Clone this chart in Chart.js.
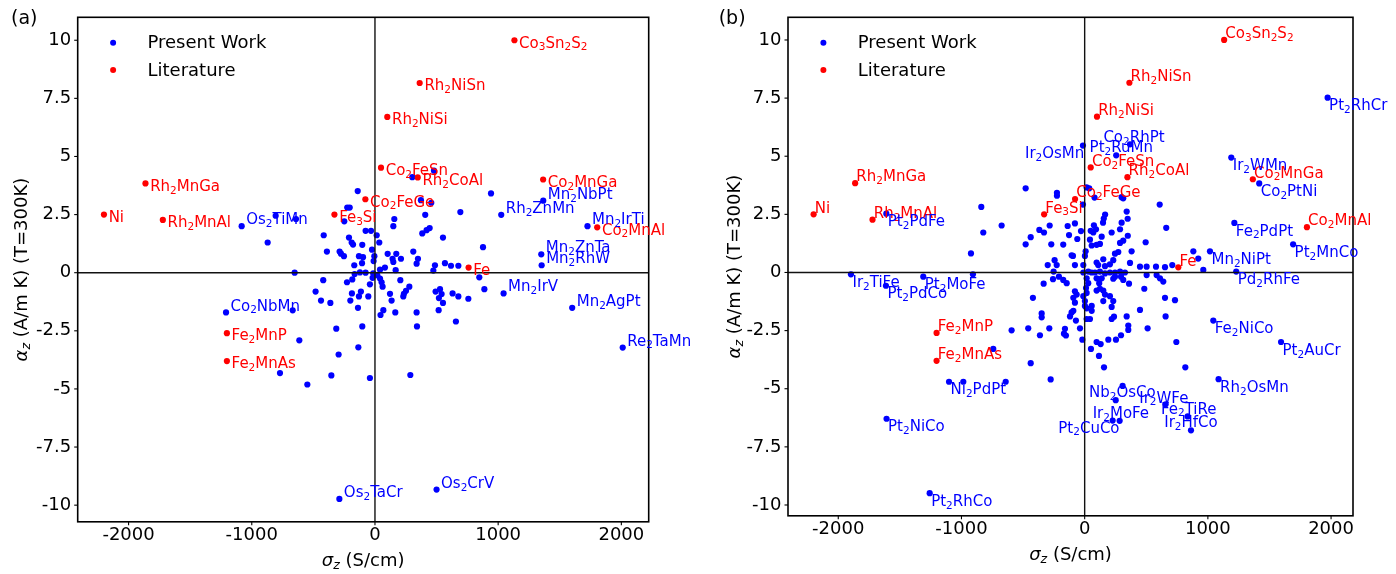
<!DOCTYPE html>
<html><head><meta charset="utf-8">
<script src="https://cdn.jsdelivr.net/npm/chart.js@4.4.1/dist/chart.umd.min.js"></script>
<style>
html,body{margin:0;padding:0;background:#fff;}
#wrap{position:relative;width:1396px;height:574px;overflow:hidden;background:#fff;}
canvas{position:absolute;top:0;}
</style></head><body>
<div id="wrap">
<canvas id="ca" width="700" height="574" style="left:0;width:700px;height:574px"></canvas>
<canvas id="cb" width="696" height="574" style="left:700px;width:696px;height:574px"></canvas>
</div>
<script>
// ---------------- data ----------------
const xTickValues = [-2000, -1000, 0, 1000, 2000];
const xTickLabels = ['-2000', '-1000', '0', '1000', '2000'];
const yTickValues = [-10, -7.5, -5, -2.5, 0, 2.5, 5, 7.5, 10];
const yTickLabels = ['-10', '-7.5', '-5', '-2.5', '0', '2.5', '5', '7.5', '10'];
const seriesNames = ['Present Work', 'Literature'];

// Literature (same in both panels)
const litNames = ['Ni','Rh2MnGa','Rh2MnAl','Fe2MnP','Fe2MnAs','Fe3Si','Co2FeGe','Co2FeSn','Rh2NiSi','Rh2CoAl','Rh2NiSn','Fe','Co3Sn2S2','Co2MnGa','Co2MnAl'];
const litSigma = [-2200,-1863,-1722,-1202,-1202,-329,-78,49,100,347,363,760,1132,1365,1804];
const litAlpha = [2.5,3.84,2.27,-2.6,-3.8,2.5,3.16,4.52,6.7,4.1,8.16,0.22,10.0,4.01,1.95];

// Panel (a) present work: labelled points first
const workA_names = ['Os2TiMn','Co2NbMn','Os2TaCr','Os2CrV','Mn2NbPt','Rh2ZnMn','Mn2IrTi','Mn2ZnTa','Mn2RhW','Mn2IrV','Mn2AgPt','Re2TaMn'];
const workA_sigma = [-1082,-1209,-289,500,1366,1025,1725,1350,1353,1044,1601,2011,
 -140,-225,-205,-806,-641,-249,-76,-32,-416,-871,-211,-189,-178,-103,-24,-390,-287,-276,-252,-130,-97,-105,-5,-11,-168,-652,-165,-122,-76,-19,-14,-420,-227,-184,-41,-482,-187,-114,-130,-54,-438,-362,-200,-668,-138,-314,-103,-614,-135,-295,-771,-354,-41,-549,
 303,479,942,373,457,157,149,408,693,14,35,384,419,444,552,103,143,173,211,149,311,349,338,877,487,474,568,617,677,847,888,41,81,19,41,54,62,168,206,279,252,235,230,122,135,68,45,165,338,341,492,528,541,519,552,517,630,677,758,657,287];
const workA_alpha = [2.00,-1.71,-9.73,-9.33,3.10,2.49,2.00,0.79,0.32,-0.89,-1.51,-3.22,
 3.51,2.80,2.80,2.45,2.31,2.21,1.80,1.80,1.61,1.30,1.51,1.30,1.21,1.20,0.99,0.91,0.91,0.82,0.71,0.71,0.67,0.41,0.71,0.50,0.32,0.0,-0.06,0.01,0.0,-0.22,-0.03,-0.32,-0.41,-0.29,-0.50,-0.81,-0.89,-0.81,-1.02,-1.02,-1.20,-1.30,-1.20,-1.62,-1.51,-2.41,-2.31,-2.91,-3.21,-3.52,-4.32,-4.42,-4.53,-4.81,
 4.11,4.39,3.41,3.12,3.01,2.31,2.00,2.49,2.61,1.61,1.30,1.69,1.83,1.92,1.51,0.81,0.60,0.81,0.60,0.46,0.91,0.60,0.39,1.10,0.32,0.09,0.41,0.30,0.30,-0.20,-0.71,0.13,0.22,-0.11,-0.25,-0.41,-0.60,0.11,-0.32,-0.60,-0.78,-0.91,-1.02,-0.91,-1.20,-1.61,-1.82,-1.71,-1.71,-2.31,-0.81,-0.71,-0.92,-1.09,-1.30,-1.61,-0.89,-1.02,-1.12,-2.10,-4.40];

// Panel (b) present work: labelled points first
const workB_names = ['Pt2RhCr','Ir2WMn','Co2PtNi','Fe2PdPt','Pt2MnCo','Mn2NiPt','Pd2RhFe','Ir2TiFe','Pt2PdCo','Pt2MoFe','Pt2PdFe','Ir2OsMn','Pt2RuMn','Co2RhPt','Nb2OsCo','Ir2WFe','Fe2TiRe','Ir2HfCo','Ir2MoFe','Pt2CuCo','Rh2OsMn','Fe2NiCo','Pt2AuCr','Ni2PdPt','Pt2NiCo','Pt2RhCo'];
// text anchors (data units) for labels moved away from their point; null = beside the point
const workB_textSigma = [null,null,null,null,null,null,null,null,null,null,null,-3,40,152,35,443,619,646,65,-214,null,null,null,null,null,null];
const workB_textAlpha = [null,null,null,null,null,null,null,null,null,null,null,5.17,5.41,5.83,-5.11,-5.36,-5.83,-6.41,-6.03,-6.65,null,null,null,null,null,null];
const workB_textAlign = [null,null,null,null,null,null,null,null,null,null,null,'right',null,null,null,null,null,null,null,null,null,null,null,null,null,null];
const workB_sigma = [1972,1190,1417,1215,1692,1017,1230,-1897,-1613,-1310,-1610,-14,256,368,308,657,836,863,284,227,1087,1044,1594,-1101,-1608,-1258,
 -479,-839,-674,-823,-923,-907,-225,-225,-368,-330,-284,-438,-479,-271,-244,-227,-300,-252,-257,-209,-333,-420,-349,
 16,37,300,313,609,341,349,300,287,313,287,155,662,-138,-79,-30,-60,-127,-174,75,92,49,70,138,57,97,124,43,8,2,219,495,381,246,273,232,151,205,165,368,-79,-11,97,110,-106,-95,449,503,579,652,711,882,922,963,-174,-146,-11,29,57,84,124,165,205,246,287,327,295,313,232,246,360,503,584,611,638,484,652,733,449,97,138,118,124,97,151,165,205,232,219,151,16,29,11,16,-11,2,2,-79,-65,-92,-79,-92,16,57,
 -14,80,350,166,149,
 -106,-119,-71,16,43,219,238,341,657,354,354,511,-160,-168,-152,-38,-19,51,97,130,192,254,295,116,157,744,817,57,
 -349,-593,-458,-363,-287,-742,-438,-276,-985,-641,252];
const workB_alpha = [7.52,4.94,3.83,2.13,1.21,0.91,0.04,-0.08,-0.57,-0.18,2.53,5.46,5.04,5.51,-4.88,-5.67,-6.19,-6.79,-6.38,-6.37,-4.59,-2.07,-2.99,-4.70,-6.29,-9.49,
 3.62,2.82,2.02,1.72,0.82,-0.08,3.43,3.30,1.83,1.72,2.02,1.52,1.21,1.21,0.53,0.32,0.32,0.04,-0.29,-0.18,-0.48,-1.09,-1.76,
 3.66,3.62,3.24,3.19,2.92,2.62,2.31,2.14,1.86,1.37,1.27,2.32,1.92,2.0,2.11,1.78,1.44,1.61,1.20,2.03,1.86,1.79,1.72,1.54,1.16,1.19,1.23,1.41,0.91,0.71,1.72,1.30,0.91,0.81,0.88,0.53,0.57,0.35,0.27,0.41,0.32,0.32,0.43,0.32,0.74,0.71,0.25,0.25,0.25,0.23,0.32,0.91,0.60,0.11,-0.32,-0.46,0.0,0.04,0.0,0.0,0.04,-0.04,0.0,0.0,0.04,0.0,-0.18,-0.32,-0.27,-0.18,-0.48,-0.11,-0.11,-0.25,-0.39,-0.70,-1.09,-1.19,-1.61,-0.25,-0.25,-0.46,-0.70,-0.78,-0.78,-0.95,-1.02,-1.23,-1.48,-1.23,-0.25,-0.46,-0.67,-0.88,-1.02,-1.23,-1.44,-0.81,-0.95,-1.09,-1.30,-1.65,-1.54,-1.65,
 2.92,3.22,1.58,2.49,2.14,
 -1.72,-1.89,-2.07,-2.00,-2.00,-2.00,-1.90,-1.89,-1.89,-2.28,-2.47,-2.40,-2.42,-2.63,-2.71,-2.40,-2.89,-3.29,-2.99,-3.08,-2.89,-2.89,-2.70,-3.59,-4.08,-2.99,-4.08,-1.44,
 -1.93,-2.49,-2.40,-2.70,-2.40,-3.29,-3.90,-4.60,-4.70,-4.70,-5.49];

// ---------------- drawing helpers ----------------
const FAMILY = '"DejaVu Sans"';
Chart.defaults.font.family = FAMILY;
Chart.defaults.color = '#000';
const BLUE = '#0000ff', RED = '#ff0000';

function fontOf(s) { return (s.it ? 'italic ' : '') + s.size + 'px ' + FAMILY; }
function formulaSegs(str, size) {
  const segs = [];
  for (const ch of str) {
    const sub = /[0-9]/.test(ch);
    const last = segs[segs.length - 1];
    if (last && last.sub === sub) last.t += ch;
    else segs.push({t: ch, sub: sub});
  }
  return segs.map(s => s.sub ? {t: s.t, size: size * 0.7, dy: size * 0.19} : {t: s.t, size: size, dy: 0});
}
function drawSegs(ctx, segs, x, y, align, color) {
  let w = 0;
  segs.forEach(s => { ctx.font = fontOf(s); s.w = ctx.measureText(s.t).width; w += s.w; });
  let cx = align === 'right' ? x - w : (align === 'center' ? x - w / 2 : x);
  ctx.fillStyle = color; ctx.textAlign = 'left'; ctx.textBaseline = 'alphabetic';
  segs.forEach(s => { ctx.font = fontOf(s); ctx.fillText(s.t, cx, y + (s.dy || 0)); cx += s.w; });
}
function zip(xs, ys) { return xs.map((v, i) => ({x: v, y: ys[i]})); }

const annotPlugin = {
  id: 'annot',
  afterDatasetsDraw(chart) {
    const cfg = chart.options.plugins.annot;
    const ctx = chart.ctx, a = chart.chartArea, sx = chart.scales.x, sy = chart.scales.y;
    ctx.save();
    // zero lines
    ctx.strokeStyle = '#111'; ctx.lineWidth = 1.4;
    const x0 = sx.getPixelForValue(0), y0 = sy.getPixelForValue(0);
    ctx.beginPath(); ctx.moveTo(a.left, y0); ctx.lineTo(a.right, y0); ctx.stroke();
    ctx.beginPath(); ctx.moveTo(x0, a.top); ctx.lineTo(x0, a.bottom); ctx.stroke();
    // frame
    ctx.strokeStyle = '#000'; ctx.lineWidth = 1.6;
    ctx.strokeRect(a.left, a.top, a.right - a.left, a.bottom - a.top);
    // small outward tick marks
    ctx.lineWidth = 1.1;
    sx.ticks.forEach(t => { const p = sx.getPixelForValue(t.value); ctx.beginPath(); ctx.moveTo(p, a.bottom); ctx.lineTo(p, a.bottom + 3.5); ctx.stroke(); });
    sy.ticks.forEach(t => { const p = sy.getPixelForValue(t.value); ctx.beginPath(); ctx.moveTo(a.left, p); ctx.lineTo(a.left - 3.5, p); ctx.stroke(); });
    // point labels
    chart.data.datasets.forEach((ds, di) => {
      const meta = chart.getDatasetMeta(di);
      const off = cfg.offsets[ds.kind];
      (ds.names || []).forEach((nm, j) => {
        const el = meta.data[j];
        let tx, cy, align = 'left';
        if (ds.textSigma && ds.textSigma[j] !== null && ds.textSigma[j] !== undefined) {
          tx = sx.getPixelForValue(ds.textSigma[j]);
          cy = sy.getPixelForValue(ds.textAlpha[j]);
          align = ds.textAlign[j] || 'left';
        } else {
          tx = el.x + off[0]; cy = el.y + off[1];
        }
        drawSegs(ctx, formulaSegs(nm, 15), tx, cy + 5.47, align, ds.backgroundColor);
      });
    });
    // legend
    const legendRows = [chart.data.datasets[1], chart.data.datasets[0]];
    legendRows.forEach((ds, i) => {
      const my = a.top + (i === 0 ? 25.5 : 52.8);
      ctx.fillStyle = ds.backgroundColor;
      ctx.beginPath(); ctx.arc(a.left + 35.4, my, 3, 0, Math.PI * 2); ctx.fill();
      drawSegs(ctx, [{t: ds.label, size: 18}], a.left + 69.8, a.top + (i === 0 ? 30.9 : 58.4), 'left', '#000');
    });
    // panel letter
    drawSegs(ctx, [{t: cfg.letter, size: 19}], cfg.letterX, 24.2, 'left', '#000');
    // x title
    drawSegs(ctx, [{t: 'σ', size: 18, it: true}, {t: 'z', size: 12.6, it: true, dy: 3.4}, {t: ' (S/cm)', size: 18}],
      (a.left + a.right) / 2, a.bottom + 44, 'center', '#000');
    // y title
    ctx.save();
    ctx.translate(cfg.yTitleX, (a.top + a.bottom) / 2);
    ctx.rotate(-Math.PI / 2);
    drawSegs(ctx, [{t: 'α', size: 18, it: true}, {t: 'z', size: 12.6, it: true, dy: 3.4}, {t: ' (A/m K) (T=300K)', size: 18}],
      0, 0, 'center', '#000');
    ctx.restore();
    ctx.restore();
  }
};

function makeChart(id, cfg) {
  const datasets = [
    {label: seriesNames[1], kind: 'lit', data: zip(litSigma, litAlpha), names: litNames,
     backgroundColor: RED, pointRadius: 3.1, pointHoverRadius: 3.1, pointBorderWidth: 0, borderWidth: 0, order: 0},
    {label: seriesNames[0], kind: 'work', data: zip(cfg.wx, cfg.wy), names: cfg.wn,
     textSigma: cfg.tSigma, textAlpha: cfg.tAlpha, textAlign: cfg.tAlign,
     backgroundColor: BLUE, pointRadius: 3.1, pointHoverRadius: 3.1, pointBorderWidth: 0, borderWidth: 0, order: 1}
  ];
  return new Chart(document.getElementById(id), {
    type: 'scatter',
    data: {datasets: datasets},
    options: {
      responsive: false, animation: false, events: [],
      layout: {autoPadding: false, padding: {left: 0, right: cfg.padRight, top: cfg.padTop, bottom: 0}},
      plugins: {legend: {display: false}, tooltip: {enabled: false},
        annot: {offsets: cfg.offsets, letter: cfg.letter, letterX: cfg.letterX, yTitleX: cfg.yTitleX}},
      scales: {
        x: {type: 'linear', bounds: 'data', min: cfg.xmin, max: cfg.xmax,
          afterBuildTicks: s => { s.ticks = xTickValues.map(v => ({value: v})); },
          afterFit: s => { s.height = cfg.xAxisHeight; },
          grid: {display: false, drawTicks: false}, border: {display: false},
          ticks: {padding: 2.5, font: {size: 18}, color: '#000', autoSkip: false, maxRotation: 0, minRotation: 0,
            callback: (v, i) => xTickLabels[i]}},
        y: {type: 'linear', bounds: 'data', min: cfg.ymin, max: cfg.ymax,
          afterBuildTicks: s => { s.ticks = yTickValues.map(v => ({value: v})); },
          afterFit: s => { s.width = cfg.yAxisWidth; },
          grid: {display: false, drawTicks: false}, border: {display: false},
          ticks: {padding: 6.5, font: {size: 18}, color: '#000', autoSkip: false,
            callback: (v, i) => yTickLabels[i]}}
      }
    },
    plugins: [annotPlugin]
  });
}

makeChart('ca', {
  wx: workA_sigma, wy: workA_alpha, wn: workA_names, tSigma: null, tAlpha: null, tAlign: null,
  xmin: -2413, xmax: 2222, ymin: -10.716, ymax: 10.987,
  padRight: 51.3, padTop: 6.8, yAxisWidth: 77.7, xAxisHeight: 52.2,
  offsets: {lit: [4.7, 1.8], work: [4.5, -7.4]},
  letter: '(a)', letterX: 11, yTitleX: 26.6
});
makeChart('cb', {
  wx: workB_sigma, wy: workB_alpha, wn: workB_names, tSigma: workB_textSigma, tAlpha: workB_textAlpha, tAlign: workB_textAlign,
  xmin: -2408, xmax: 2178, ymin: -10.465, ymax: 10.975,
  padRight: 43, padTop: 7.1, yAxisWidth: 88, xAxisHeight: 58.2,
  offsets: {lit: [1.2, -7.2], work: [1.5, 7.2]},
  letter: '(b)', letterX: 18.7, yTitleX: 39.8
});
</script>
</body></html>
